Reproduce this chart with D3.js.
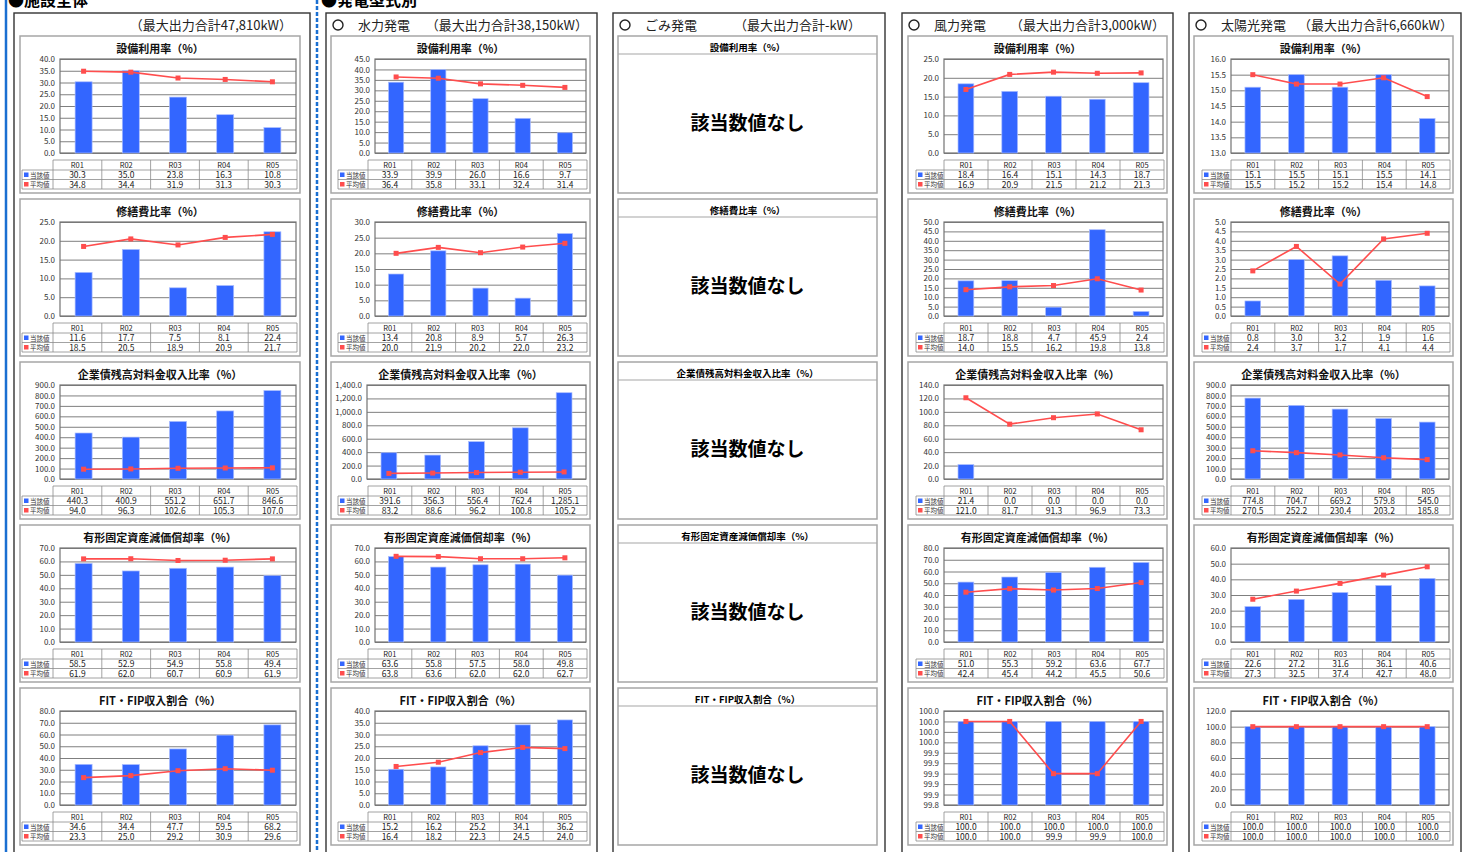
<!DOCTYPE html>
<html>
<head>
<meta charset="utf-8">
<script src="https://cdn.jsdelivr.net/npm/d3@7"></script>
<style>
body { margin: 0; background: #fff; }
text { font-family: "Noto Sans CJK JP", "Noto Sans", sans-serif; }
</style>
</head>
<body>
<svg id="chart" width="1470" height="852"></svg>
<script>
// data
var years = ["R01", "R02", "R03", "R04", "R05"];
var chartTitles = ["設備利用率（%）", "修繕費比率（%）", "企業債残高対料金収入比率（%）", "有形固定資産減価償却率（%）", "FIT・FIP収入割合（%）"];
var groupNames = ["", "水力発電", "ごみ発電", "風力発電", "太陽光発電"];
var capacities = ["47,810", "38,150", "-", "3,000", "6,660"];

var totalCurrent = [[30.3, 35.0, 23.8, 16.3, 10.8], [11.6, 17.7, 7.5, 8.1, 22.4], [440.3, 400.9, 551.2, 651.7, 846.6], [58.5, 52.9, 54.9, 55.8, 49.4], [34.6, 34.4, 47.7, 59.5, 68.2]];
var totalAverage = [[34.8, 34.4, 31.9, 31.3, 30.3], [18.5, 20.5, 18.9, 20.9, 21.7], [94.0, 96.3, 102.6, 105.3, 107.0], [61.9, 62.0, 60.7, 60.9, 61.9], [23.3, 25.0, 29.2, 30.9, 29.6]];
var totalAxis = [[0, 40, 5], [0, 25, 5], [0, 900, 100], [0, 70, 10], [0, 80, 10]];

var hydroCurrent = [[33.9, 39.9, 26.0, 16.6, 9.7], [13.4, 20.8, 8.9, 5.7, 26.3], [391.6, 356.3, 556.4, 762.4, 1285.1], [63.6, 55.8, 57.5, 58.0, 49.8], [15.2, 16.2, 25.2, 34.1, 36.2]];
var hydroAverage = [[36.4, 35.8, 33.1, 32.4, 31.4], [20.0, 21.9, 20.2, 22.0, 23.2], [83.2, 88.6, 96.2, 100.8, 105.2], [63.8, 63.6, 62.0, 62.0, 62.7], [16.4, 18.2, 22.3, 24.5, 24.0]];
var hydroAxis = [[0, 45, 5], [0, 30, 5], [0, 1400, 200], [0, 70, 10], [0, 40, 5]];

var windCurrent = [[18.4, 16.4, 15.1, 14.3, 18.7], [18.7, 18.8, 4.7, 45.9, 2.4], [21.4, 0.0, 0.0, 0.0, 0.0], [51.0, 55.3, 59.2, 63.6, 67.7], [100.0, 100.0, 100.0, 100.0, 100.0]];
var windAverage = [[16.9, 20.9, 21.5, 21.2, 21.3], [14.0, 15.5, 16.2, 19.8, 13.8], [121.0, 81.7, 91.3, 96.9, 73.3], [42.4, 45.4, 44.2, 45.5, 50.6], [100.0, 100.0, 99.9, 99.9, 100.0]];
var windAxis = [[0, 25, 5], [0, 50, 5], [0, 140, 20], [0, 80, 10], [99.84, 100.02, 0.02]];

var solarCurrent = [[15.1, 15.5, 15.1, 15.5, 14.1], [0.8, 3.0, 3.2, 1.9, 1.6], [774.8, 704.7, 669.2, 579.8, 545.0], [22.6, 27.2, 31.6, 36.1, 40.6], [100.0, 100.0, 100.0, 100.0, 100.0]];
var solarAverage = [[15.5, 15.2, 15.2, 15.4, 14.8], [2.4, 3.7, 1.7, 4.1, 4.4], [270.5, 252.2, 230.4, 203.2, 185.8], [27.3, 32.5, 37.4, 42.7, 48.0], [100.0, 100.0, 100.0, 100.0, 100.0]];
var solarAxis = [[13, 16, 0.5], [0, 5, 0.5], [0, 900, 100], [0, 60, 10], [0, 120, 20]];

var groupCurrent = [totalCurrent, hydroCurrent, null, windCurrent, solarCurrent];
var groupAverage = [totalAverage, hydroAverage, null, windAverage, solarAverage];
var groupAxis = [totalAxis, hydroAxis, null, windAxis, solarAxis];

// layout
var cols = [
	{bx: 14, bw: 296, px: 20, pw: 280, tl: 2, cl: 33, pl: 40, capEnd: 292},
	{bx: 326, bw: 271, px: 331, pw: 259, tl: 7, cl: 37, pl: 44, capEnd: 588},
	{bx: 613, bw: 272, px: 618, pw: 259, tl: 8, cl: 37, pl: 40, capEnd: 861},
	{bx: 902, bw: 271, px: 908, pw: 259, tl: 8, cl: 36, pl: 36, capEnd: 1165},
	{bx: 1189, bw: 272, px: 1194, pw: 259, tl: 8, cl: 37, pl: 37, capEnd: 1453}
];
var PH = 157;
var blue = "#3366ff", red = "#ff4d4d";
var fmt = d3.format(",.1f");

var svg = d3.select("#chart");

// section headers and separators
svg.append("line").attr("x1", 6).attr("x2", 6).attr("y1", 0).attr("y2", 852)
	.attr("stroke", "#1a6fd1").attr("stroke-width", 2.5);
svg.append("line").attr("x1", 317).attr("x2", 317).attr("y1", 0).attr("y2", 852)
	.attr("stroke", "#1a6fd1").attr("stroke-width", 2.5).attr("stroke-dasharray", "4,2");
svg.append("text").attr("x", 8).attr("y", 6).attr("font-size", 16).attr("font-weight", "bold").text("●施設全体");
svg.append("text").attr("x", 321).attr("y", 6).attr("font-size", 16).attr("font-weight", "bold").text("●発電型式別");

function drawPanel(x, y, c, title, cur, avg, axis, pl) {
	var w = c.pw;
	var g = svg.append("g").attr("transform", "translate(" + x + "," + y + ")");
	g.append("rect").attr("width", w).attr("height", PH).attr("fill", "#fff")
		.attr("stroke", "#a6a6a6").attr("stroke-width", 1.5);

	if (!cur) {
		g.append("text").attr("x", w / 2).attr("y", 15).attr("text-anchor", "middle")
			.attr("font-size", 9.5).attr("font-weight", "bold").text(title);
		g.append("line").attr("x1", 0).attr("x2", w).attr("y1", 18).attr("y2", 18)
			.attr("stroke", "#a6a6a6").attr("stroke-width", 1.2);
		g.append("text").attr("x", w / 2).attr("y", 94).attr("text-anchor", "middle")
			.attr("font-size", 19).attr("font-weight", "bold").text("該当数値なし");
		return;
	}

	g.append("text").attr("x", w / 2).attr("y", 17).attr("text-anchor", "middle")
		.attr("font-size", 11).attr("font-weight", "bold").attr("fill", "#111").text(title);

	var x0 = pl, x1 = w - 4, y0 = 23, y1 = 117;
	var xs = d3.scaleBand().domain(years).range([x0, x1]).paddingInner(0.64).paddingOuter(0.32);
	var ys = d3.scaleLinear().domain([axis[0], axis[1]]).range([y1, y0]);
	var n = Math.round((axis[1] - axis[0]) / axis[2]);
	var ticks = d3.range(0, n + 1).map(function(i) { return axis[0] + i * axis[2]; });

	var ax = g.append("g").attr("transform", "translate(" + x0 + ",0)")
		.call(d3.axisLeft(ys).tickValues(ticks).tickFormat(fmt)
			.tickSizeInner(-(x1 - x0)).tickSizeOuter(0).tickPadding(5));
	ax.select(".domain").remove();
	ax.selectAll("line").attr("stroke", "#7f7f7f");
	ax.selectAll("text").attr("font-size", 8).attr("fill", "#333")
		.style("font-family", "'Noto Sans CJK JP', sans-serif");
	g.append("rect").attr("x", x0).attr("y", y0).attr("width", x1 - x0).attr("height", y1 - y0)
		.attr("fill", "none").attr("stroke", "#737373").attr("stroke-width", 1.2);

	var bw = xs.bandwidth();
	g.selectAll("rect.bar").data(cur).enter().append("rect").attr("class", "bar")
		.attr("x", function(d, i) { return xs(years[i]); })
		.attr("y", function(d) { return ys(d); })
		.attr("width", bw)
		.attr("height", function(d) { return Math.max(0, ys(axis[0]) - ys(d)); })
		.attr("fill", blue).attr("stroke", "#a9bcff").attr("stroke-width", 0.7);

	var line = d3.line()
		.x(function(d, i) { return xs(years[i]) + bw / 2; })
		.y(function(d) { return ys(d); });
	g.append("path").datum(avg).attr("d", line).attr("fill", "none")
		.attr("stroke", red).attr("stroke-width", 1.6);
	g.selectAll("rect.mk").data(avg).enter().append("rect").attr("class", "mk")
		.attr("x", function(d, i) { return xs(years[i]) + bw / 2 - 2.5; })
		.attr("y", function(d) { return ys(d) - 2.5; })
		.attr("width", 5).attr("height", 5).attr("fill", red);

	// data table
	var tl = c.tl, cl = c.cl, tr = w - 3;
	var cw = (tr - cl) / years.length;
	var rows = [124, 134, 143.5, 153];
	var tg = g.append("g").attr("stroke", "#8c8c8c").attr("stroke-width", 0.8);
	tg.append("line").attr("x1", cl).attr("x2", tr).attr("y1", rows[0]).attr("y2", rows[0]);
	for (var r = 1; r < 4; r++) {
		tg.append("line").attr("x1", tl).attr("x2", tr).attr("y1", rows[r]).attr("y2", rows[r]);
	}
	tg.append("line").attr("x1", tl).attr("x2", tl).attr("y1", rows[1]).attr("y2", rows[3]);
	for (var k = 0; k <= years.length; k++) {
		tg.append("line").attr("x1", cl + k * cw).attr("x2", cl + k * cw).attr("y1", rows[0]).attr("y2", rows[3]);
	}
	years.forEach(function(yr, i) {
		var cx = cl + (i + 0.5) * cw;
		g.append("text").attr("x", cx).attr("y", rows[0] + 8).attr("text-anchor", "middle")
			.attr("font-size", 7.5).attr("fill", "#222").text(yr);
		g.append("text").attr("x", cx).attr("y", rows[1] + 8).attr("text-anchor", "middle")
			.attr("font-size", 8.5).attr("fill", "#222").text(fmt(cur[i]));
		g.append("text").attr("x", cx).attr("y", rows[2] + 8).attr("text-anchor", "middle")
			.attr("font-size", 8.5).attr("fill", "#222").text(fmt(avg[i]));
	});
	[["当該値", blue], ["平均値", red]].forEach(function(l, i) {
		var ry = rows[i + 1];
		g.append("rect").attr("x", tl + 2).attr("y", ry + 2.5).attr("width", 4.5).attr("height", 4.5).attr("fill", l[1]);
		g.append("text").attr("x", tl + 8).attr("y", ry + 7.5).attr("font-size", 6.5).attr("fill", "#333").text(l[0]);
	});
}

cols.forEach(function(c, gi) {
	svg.append("rect").attr("x", c.bx).attr("y", 13).attr("width", c.bw).attr("height", 860)
		.attr("fill", "none").attr("stroke", "#333").attr("stroke-width", 1.4);
	if (groupNames[gi]) {
		svg.append("circle").attr("cx", c.bx + 12).attr("cy", 25).attr("r", 5)
			.attr("fill", "none").attr("stroke", "#222").attr("stroke-width", 1.4);
		svg.append("text").attr("x", c.bx + 32).attr("y", 30).attr("font-size", 13).attr("fill", "#222")
			.text(groupNames[gi]);
	}
	svg.append("text").attr("x", c.capEnd).attr("y", 30).attr("text-anchor", "end")
		.attr("font-size", 13).attr("fill", "#222")
		.text("（最大出力合計" + capacities[gi] + "kW）");

	chartTitles.forEach(function(t, ci) {
		var py = 36 + ci * 163;
		var cur = groupCurrent[gi] ? groupCurrent[gi][ci] : null;
		var avg = groupAverage[gi] ? groupAverage[gi][ci] : null;
		var axis = groupAxis[gi] ? groupAxis[gi][ci] : null;
		var pl = c.pl;
		if (gi == 1 && ci == 2) pl = 36;
		drawPanel(c.px, py, c, t, cur, avg, axis, pl);
	});
});
</script>
</body>
</html>
